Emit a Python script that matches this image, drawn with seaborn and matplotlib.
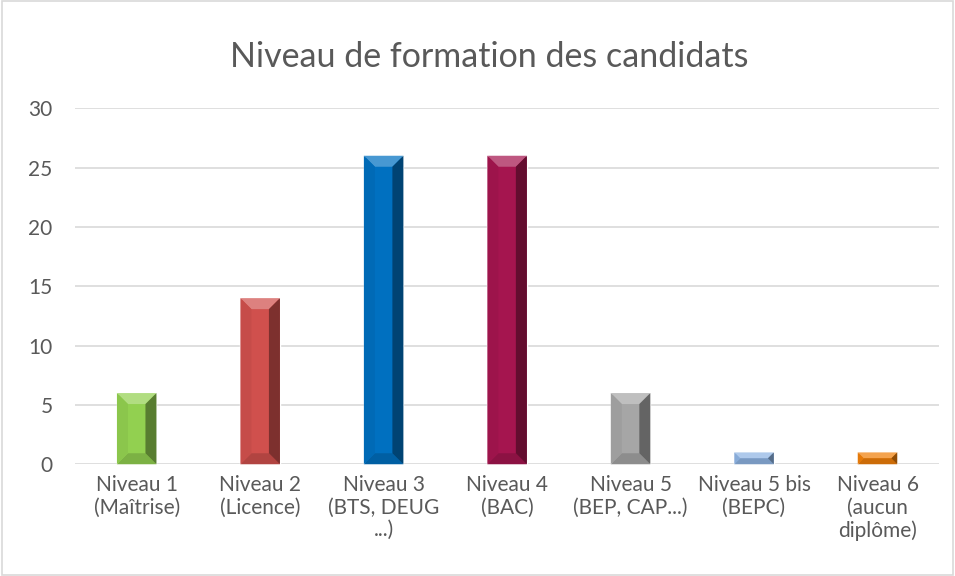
import matplotlib
matplotlib.use("Agg")
import matplotlib.pyplot as plt
import seaborn as sns
import pandas as pd
from matplotlib.patches import Polygon, Rectangle
from matplotlib.transforms import IdentityTransform
from matplotlib.colors import to_rgb

# Data
categories = ["Niveau 1\n(Maîtrise)", "Niveau 2\n(Licence)", "Niveau 3\n(BTS, DEUG\n...)",
              "Niveau 4\n(BAC)", "Niveau 5\n(BEP, CAP...)", "Niveau 5 bis\n(BEPC)",
              "Niveau 6\n(aucun\ndiplôme)"]
values = [6, 14, 26, 26, 6, 1, 1]
colors = ["#92D050", "#D0504D", "#0070C0", "#A5154F", "#A6A6A6", "#8EB4E3", "#F07F09"]

df = pd.DataFrame({"niveau": categories, "candidats": values})

sns.set_style("white")
plt.rcParams['font.family'] = ['Lato', 'DejaVu Sans']

fig = plt.figure(figsize=(9.55, 5.76), dpi=100)
ax = fig.add_axes([0.0785, 0.194, 0.905, 0.618])

sns.barplot(data=df, x="niveau", y="candidats", hue="niveau", palette=colors,
            legend=False, width=0.32, saturation=1, ax=ax, zorder=3)

ax.set_ylim(0, 30)
ax.set_yticks(range(0, 31, 5))
ax.grid(axis="y", color="#D9D9D9", linewidth=1.2, zorder=0)
ax.set_axisbelow(True)
for s in ax.spines.values():
    s.set_visible(False)
ax.set_xlabel("")
ax.set_ylabel("")
ax.tick_params(axis="both", length=0, labelsize=15, labelcolor="#595959", pad=8)
ax.tick_params(axis="y", pad=16)
for lab in ax.get_xticklabels():
    lab.set_linespacing(1.15)
ax.set_title("Niveau de formation des candidats", fontsize=24.5, color="#595959",
             pad=30, x=0.479)


def shade(c, f):
    r, g, b = to_rgb(c)
    if f > 1:
        return tuple(x + (1 - x) * (f - 1) for x in (r, g, b))
    return tuple(x * f for x in (r, g, b))


# bevel effect on each bar
fig.canvas.draw()
for patch, c in zip(ax.patches, colors):
    x0, y0, x1, y1 = patch.get_window_extent().extents
    d = min(11, (x1 - x0) / 3, (y1 - y0) / 2)
    tops = [(x0, y1), (x1, y1), (x1 - d, y1 - d), (x0 + d, y1 - d)]
    bots = [(x0, y0), (x1, y0), (x1 - d, y0 + d), (x0 + d, y0 + d)]
    lefts = [(x0, y0), (x0, y1), (x0 + d, y1 - d), (x0 + d, y0 + d)]
    rights = [(x1, y0), (x1, y1), (x1 - d, y1 - d), (x1 - d, y0 + d)]
    for pts, f in [(tops, 1.28), (bots, 0.85), (lefts, 0.95), (rights, 0.6)]:
        fig.patches.append(Polygon(pts, closed=True, transform=IdentityTransform(),
                                   facecolor=shade(c, f), edgecolor="none", zorder=4,
                                   figure=fig))

# figure border
fig.patches.append(Rectangle((0.002, 0.002), 0.996, 0.996, transform=fig.transFigure,
                             fill=False, edgecolor="#D9D9D9", linewidth=1.2, figure=fig))

fig.savefig("out.png", dpi=100)
